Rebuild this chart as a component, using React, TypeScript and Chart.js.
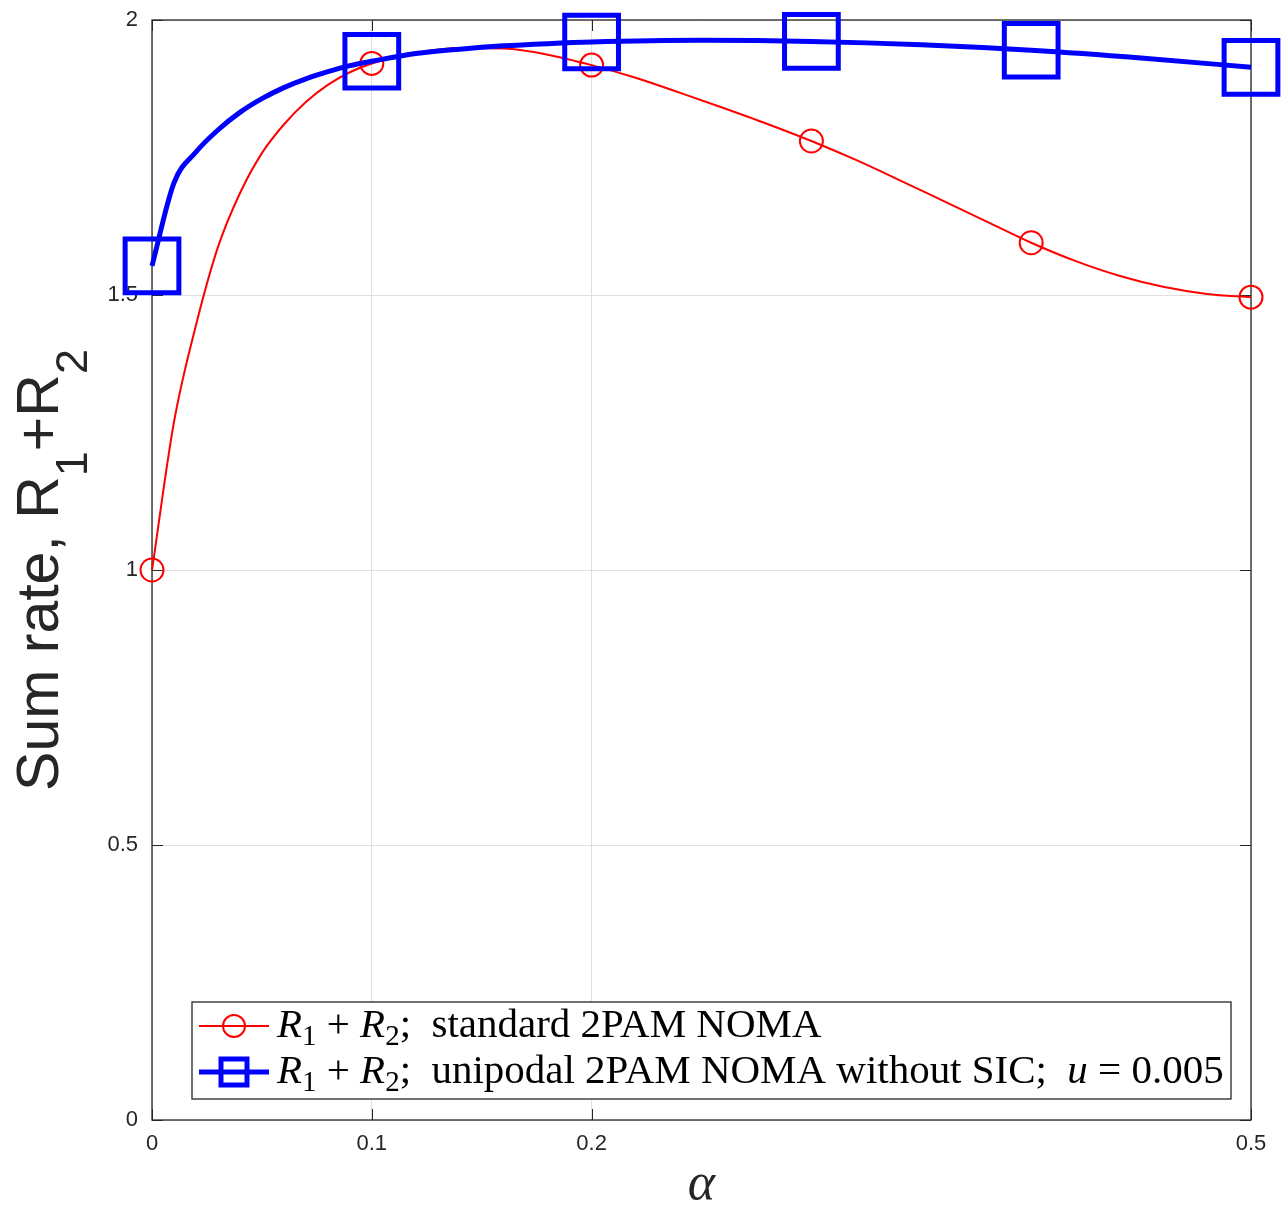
import React, { useEffect, useRef } from 'react';
import { Chart, registerables } from 'chart.js';

Chart.register(...registerables);

// ---------- data ----------
const alphaRed = [0, 0.01, 0.02, 0.03, 0.04, 0.05, 0.06, 0.07, 0.08, 0.09, 0.1, 0.12, 0.14, 0.16, 0.18, 0.2, 0.22, 0.24, 0.26, 0.28, 0.3, 0.32, 0.34, 0.36, 0.38, 0.4, 0.42, 0.44, 0.46, 0.48, 0.5];
const sumRateRed = [1.0, 1.269, 1.445, 1.587, 1.685, 1.758, 1.81, 1.851, 1.882, 1.905, 1.921, 1.94, 1.949, 1.948, 1.937, 1.918, 1.895, 1.868, 1.84, 1.811, 1.78, 1.746, 1.709, 1.671, 1.633, 1.595, 1.562, 1.535, 1.515, 1.502, 1.496];

const alphaBlue = [0, 0.01, 0.02, 0.03, 0.04, 0.05, 0.06, 0.07, 0.08, 0.09, 0.1, 0.12, 0.14, 0.16, 0.18, 0.2, 0.25, 0.3, 0.35, 0.4, 0.45, 0.5];
const sumRateBlue = [1.553, 1.704, 1.76, 1.8, 1.832, 1.857, 1.877, 1.893, 1.906, 1.917, 1.925, 1.939, 1.947, 1.953, 1.957, 1.96, 1.963, 1.961, 1.955, 1.945, 1.931, 1.914];

const markerAlphas = [0, 0.1, 0.2, 0.3, 0.4, 0.5];
const xTickValues = [0, 0.1, 0.2, 0.5];
const yTickValues = [0, 0.5, 1, 1.5, 2];

const xAxisTitle = 'α';
const yAxisTitleSegs = [
  { t: 'Sum rate, R', s: 'rm' },
  { t: '1', s: 'sub' },
  { t: '+R', s: 'rm' },
  { t: '2', s: 'sub' },
];
const legendRed = [
  { t: 'R', s: 'it' },
  { t: '1', s: 'sub' },
  { t: ' + ', s: 'rm' },
  { t: 'R', s: 'it' },
  { t: '2', s: 'sub' },
  { t: ';  standard 2PAM NOMA', s: 'rm' },
];
const legendBlue = [
  { t: 'R', s: 'it' },
  { t: '1', s: 'sub' },
  { t: ' + ', s: 'rm' },
  { t: 'R', s: 'it' },
  { t: '2', s: 'sub' },
  { t: ';  unipodal 2PAM NOMA without SIC;  ', s: 'rm' },
  { t: 'u', s: 'it' },
  { t: ' = 0.005', s: 'rm' },
];

// ---------- styles ----------
const RED = '#ff0000';
const BLUE = '#0000ff';
const AXIS = '#262626';
const GRID = '#dfdfdf';
const SANS = '"Liberation Sans", Arial, sans-serif';
const SERIF = '"Liberation Serif", "DejaVu Serif", serif';

type Seg = { t: string; s: string };

function fontFor(s: string, size: number, family: string, subScale: number) {
  if (s === 'sub') return `${Math.round(size * subScale)}px ${family}`;
  if (s === 'it') return `italic ${size}px ${family}`;
  return `${size}px ${family}`;
}

function richWidth(ctx: CanvasRenderingContext2D, segs: Seg[], size: number, family: string, subScale: number) {
  let w = 0;
  for (const g of segs) {
    ctx.font = fontFor(g.s, size, family, subScale);
    w += ctx.measureText(g.t).width;
  }
  return w;
}

function drawRich(ctx: CanvasRenderingContext2D, segs: Seg[], x: number, y: number, size: number, family: string, subScale: number, subDrop: number) {
  let cx = x;
  ctx.textBaseline = 'alphabetic';
  ctx.textAlign = 'left';
  for (const g of segs) {
    ctx.font = fontFor(g.s, size, family, subScale);
    const dy = g.s === 'sub' ? subDrop : 0;
    ctx.fillText(g.t, cx, y + dy);
    cx += ctx.measureText(g.t).width;
  }
}

const isMarker = (v: number) => markerAlphas.some((m) => Math.abs(m - v) < 1e-9);

const zeroPad = (scale: any) => {
  scale.paddingTop = 0;
  scale.paddingBottom = 0;
  scale.paddingLeft = 0;
  scale.paddingRight = 0;
};

const matlabPlugin = {
  id: 'matlabDecor',
  beforeDatasetsDraw(chart: any) {
    const { ctx, chartArea, scales } = chart;
    const { left, right, top, bottom } = chartArea;
    ctx.save();
    ctx.strokeStyle = AXIS;
    ctx.lineWidth = 1.3;
    ctx.strokeRect(left, top, right - left, bottom - top);
    ctx.lineWidth = 1;
    const tl = 11;
    ctx.beginPath();
    for (const v of xTickValues) {
      const px = Math.round(scales.x.getPixelForValue(v)) + 0.5;
      ctx.moveTo(px, bottom);
      ctx.lineTo(px, bottom - tl);
      ctx.moveTo(px, top);
      ctx.lineTo(px, top + tl);
    }
    for (const v of yTickValues) {
      const py = Math.round(scales.y.getPixelForValue(v)) + 0.5;
      ctx.moveTo(left, py);
      ctx.lineTo(left + tl, py);
      ctx.moveTo(right, py);
      ctx.lineTo(right - tl, py);
    }
    ctx.stroke();
    ctx.restore();
  },
  afterDraw(chart: any) {
    const { ctx, chartArea } = chart;
    const { left, right, top, bottom } = chartArea;
    ctx.save();
    ctx.fillStyle = AXIS;

    // x axis title
    ctx.font = `italic 52px ${SERIF}`;
    ctx.textAlign = 'center';
    ctx.textBaseline = 'alphabetic';
    ctx.fillText(xAxisTitle, (left + right) / 2, 1199);

    // y axis title (rotated)
    const ySize = 59;
    const yw = richWidth(ctx, yAxisTitleSegs, ySize, SANS, 0.76);
    ctx.save();
    ctx.translate(58, (top + bottom) / 2);
    ctx.rotate(-Math.PI / 2);
    drawRich(ctx, yAxisTitleSegs, -yw / 2, 0, ySize, SANS, 0.76, 29);
    ctx.restore();

    // legend
    const bx = 192, by = 1002, bw = 1231 - 192, bh = 1099 - 1002;
    ctx.fillStyle = '#ffffff';
    ctx.fillRect(bx, by, bw, bh);
    ctx.strokeStyle = AXIS;
    ctx.lineWidth = 1.3;
    ctx.strokeRect(bx, by, bw, bh);

    const textX = 277;
    const targetW = 1224 - textX;
    const w34 = richWidth(ctx, legendBlue, 34, SERIF, 0.7);
    const lsize = (34 * targetW) / w34;

    const rows = [
      { segs: legendRed, y: 1026, base: 1037, color: RED, lw: 2, marker: 'circle' },
      { segs: legendBlue, y: 1072, base: 1083, color: BLUE, lw: 5, marker: 'rect' },
    ];
    for (const r of rows) {
      ctx.strokeStyle = r.color;
      ctx.lineWidth = r.lw;
      ctx.beginPath();
      ctx.moveTo(199, r.y);
      ctx.lineTo(269, r.y);
      ctx.stroke();
      if (r.marker === 'circle') {
        ctx.lineWidth = 2;
        ctx.beginPath();
        ctx.arc(234, r.y, 11, 0, Math.PI * 2);
        ctx.stroke();
      } else {
        ctx.lineWidth = 5;
        ctx.strokeRect(234 - 13, r.y - 13, 26, 26);
      }
      ctx.fillStyle = '#000000';
      drawRich(ctx, r.segs, textX, r.base, lsize, SERIF, 0.7, lsize * 0.2);
    }
    ctx.restore();
  },
};

export default function App() {
  const canvasRef = useRef<HTMLCanvasElement | null>(null);

  useEffect(() => {
    const canvas = canvasRef.current;
    if (!canvas) return;
    const chart = new Chart(canvas, {
      type: 'line',
      data: {
        datasets: [
          {
            label: 'R1 + R2; unipodal 2PAM NOMA without SIC; u = 0.005',
            data: alphaBlue.map((a, i) => ({ x: a, y: sumRateBlue[i] })),
            borderColor: BLUE,
            borderWidth: 5,
            pointStyle: 'rect',
            pointRadius: (c: any) => (isMarker(c.raw?.x) ? 38 : 0),
            pointBorderWidth: 5,
            pointBorderColor: BLUE,
            pointBackgroundColor: 'rgba(0,0,0,0)',
            cubicInterpolationMode: 'monotone',
            clip: false as any,
            order: 1,
          },
          {
            label: 'R1 + R2; standard 2PAM NOMA',
            data: alphaRed.map((a, i) => ({ x: a, y: sumRateRed[i] })),
            borderColor: RED,
            borderWidth: 2,
            pointStyle: 'circle',
            pointRadius: (c: any) => (isMarker(c.raw?.x) ? 11.5 : 0),
            pointBorderWidth: 2,
            pointBorderColor: RED,
            pointBackgroundColor: 'rgba(0,0,0,0)',
            cubicInterpolationMode: 'monotone',
            clip: false as any,
            order: 2,
          },
        ],
      },
      options: {
        responsive: false,
        animation: false,
        events: [],
        layout: { autoPadding: false, padding: { left: 0, top: 20, right: 34, bottom: 0 } },
        plugins: {
          legend: { display: false },
          tooltip: { enabled: false },
          title: { display: false },
        },
        scales: {
          x: {
            type: 'linear',
            min: 0,
            max: 0.5,
            afterBuildTicks: (scale: any) => {
              scale.ticks = xTickValues.map((v) => ({ value: v }));
            },
            afterFit: (scale: any) => {
              scale.height = 85;
              zeroPad(scale);
            },
            grid: { color: GRID, lineWidth: 1, drawTicks: false },
            border: { display: false },
            ticks: {
              autoSkip: false,
              maxRotation: 0,
              padding: 11,
              color: AXIS,
              font: { family: SANS, size: 22 },
              callback: (v: any) => String(v),
            },
          },
          y: {
            type: 'linear',
            min: 0,
            max: 2,
            afterBuildTicks: (scale: any) => {
              scale.ticks = yTickValues.map((v) => ({ value: v }));
            },
            afterFit: (scale: any) => {
              scale.width = 152;
              zeroPad(scale);
            },
            grid: { color: GRID, lineWidth: 1, drawTicks: false },
            border: { display: false },
            ticks: {
              padding: 14,
              color: AXIS,
              font: { family: SANS, size: 22 },
              callback: (v: any) => String(v),
            },
          },
        },
      },
      plugins: [matlabPlugin],
    } as any);
    return () => chart.destroy();
  }, []);

  return (
    <div style={{ position: 'absolute', left: 0, top: 0, width: 1285, height: 1205, background: '#ffffff' }}>
      <canvas ref={canvasRef} width={1285} height={1205} style={{ display: 'block' }} />
    </div>
  );
}
